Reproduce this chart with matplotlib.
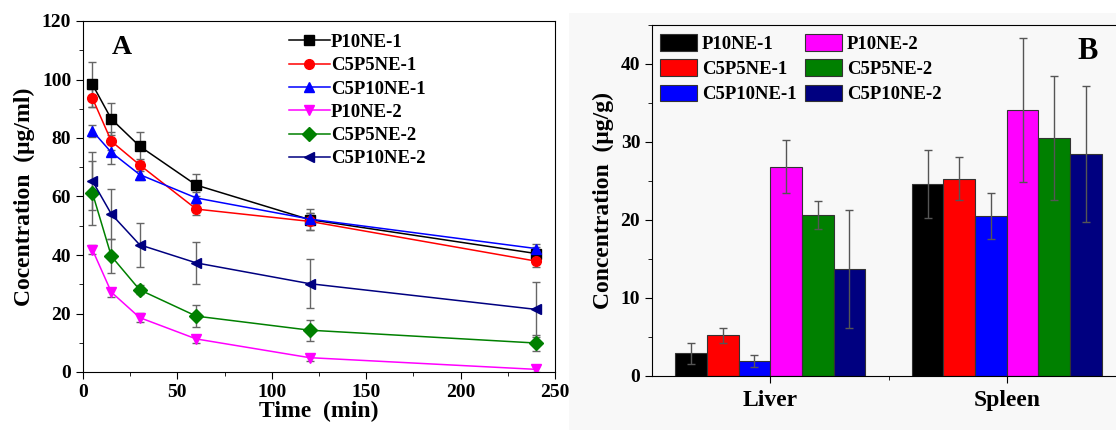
import matplotlib.pyplot as plt
import numpy as np
from matplotlib.ticker import MultipleLocator
from matplotlib.patches import Rectangle
from matplotlib.lines import Line2D

plt.rcParams['font.family'] = ['Liberation Serif', 'DejaVu Serif']
plt.rcParams['font.weight'] = 'bold'
plt.rcParams['axes.labelweight'] = 'bold'

# panel A data: concentration in plasma over time
times = [5, 15, 30, 60, 120, 240]
labels = ['P10NE-1', 'C5P5NE-1', 'C5P10NE-1', 'P10NE-2', 'C5P5NE-2', 'C5P10NE-2']
colors = ['black', 'red', 'blue', 'magenta', 'green', 'navy']
markers = ['s', 'o', '^', 'v', 'D', '<']

p10ne_1 = [98.3, 86.5, 77.2, 63.9, 52.1, 40.5]
p10ne_1_err = [7.6, 5.5, 5.0, 3.8, 3.6, 2.2]
c5p5ne_1 = [93.6, 78.9, 70.8, 55.7, 51.5, 37.9]
c5p5ne_1_err = [3.0, 3.0, 2.0, 2.0, 3.0, 2.0]
c5p10ne_1 = [82.4, 75.1, 67.5, 59.5, 52.3, 42.2]
c5p10ne_1_err = [2.0, 4.0, 2.0, 2.0, 2.0, 1.5]
p10ne_2 = [41.8, 27.3, 18.6, 11.3, 4.9, 0.9]
p10ne_2_err = [1.5, 1.5, 1.5, 1.5, 1.0, 1.0]
c5p5ne_2 = [61.2, 39.6, 28.1, 19.1, 14.3, 9.9]
c5p5ne_2_err = [11.0, 5.8, 1.5, 3.8, 3.6, 2.7]
c5p10ne_2 = [65.3, 54.0, 43.5, 37.3, 30.2, 21.4]
c5p10ne_2_err = [10.0, 8.4, 7.5, 7.2, 8.3, 9.4]

series = [p10ne_1, c5p5ne_1, c5p10ne_1, p10ne_2, c5p5ne_2, c5p10ne_2]
series_err = [p10ne_1_err, c5p5ne_1_err, c5p10ne_1_err, p10ne_2_err, c5p5ne_2_err, c5p10ne_2_err]

# panel B data: tissue concentration
organs = ['Liver', 'Spleen']
bar_vals = [[2.9, 24.6], [5.2, 25.3], [1.9, 20.5], [26.8, 34.1], [20.6, 30.5], [13.7, 28.5]]
bar_errs = [[1.3, 4.4], [1.0, 2.8], [0.8, 2.9], [3.4, 9.2], [1.8, 7.9], [7.6, 8.7]]

fig = plt.figure(figsize=(11.16, 4.3), dpi=100)

# faint background of the right-hand panel image
fig.patches.append(Rectangle((569 / 1116, 0.0), 1 - 569 / 1116, 1 - 13 / 430,
                             transform=fig.transFigure, facecolor='#f8f8f8',
                             edgecolor='none', zorder=-10))

# ---- panel A ----
ax1 = fig.add_axes([83 / 1116, 58 / 430, 472 / 1116, 351 / 430])
handles = []
for vals, errs, lab, c, m in zip(series, series_err, labels, colors, markers):
    ax1.errorbar(times, vals, yerr=errs, color=c, marker=m, markersize=7,
                 linewidth=1.1, ecolor='#666666', elinewidth=1, capsize=3)
    handles.append(Line2D([], [], color=c, marker=m, markersize=7, linewidth=1.1))
ax1.set_xlim(0, 250)
ax1.set_ylim(0, 120)
ax1.xaxis.set_major_locator(MultipleLocator(50))
ax1.xaxis.set_minor_locator(MultipleLocator(25))
ax1.yaxis.set_major_locator(MultipleLocator(20))
ax1.yaxis.set_minor_locator(MultipleLocator(10))
ax1.tick_params(which='both', direction='out', labelsize=14)
ax1.tick_params(which='major', length=5)
ax1.tick_params(which='minor', length=3)
ax1.set_xlabel('Time  (min)', fontsize=17, labelpad=0)
ax1.set_ylabel('Cocentration  (\u03bcg/ml)', fontsize=17, labelpad=5)
ax1.text(0.06, 0.925, 'A', transform=ax1.transAxes, fontsize=20, fontweight='bold',
         va='center')
ax1.legend(handles, labels, loc='upper left', bbox_to_anchor=(0.42, 0.985),
           frameon=False, fontsize=13.5, handlelength=2.2, handletextpad=0.05,
           labelspacing=0.33, borderaxespad=0)

# ---- panel B ----
ax2 = fig.add_axes([652 / 1116, 54 / 430, 473 / 1116, 351 / 430])
x = np.arange(len(organs))
width = 0.134
for i, (vals, errs, lab, c) in enumerate(zip(bar_vals, bar_errs, labels, colors)):
    pos = x + (i - 2.5) * width
    ax2.bar(pos, vals, width=width, color=c, edgecolor='#333333', linewidth=0.8,
            label=lab)
    ax2.errorbar(pos, vals, yerr=errs, fmt='none', ecolor='#555555',
                 elinewidth=1, capsize=3)
ax2.set_xlim(-0.5, 1.5)
ax2.set_ylim(0, 45)
ax2.set_xticks(x)
ax2.set_xticklabels(organs)
ax2.set_xticks([0.5], minor=True)
ax2.yaxis.set_major_locator(MultipleLocator(10))
ax2.yaxis.set_minor_locator(MultipleLocator(5))
ax2.tick_params(which='both', direction='out', labelsize=14)
ax2.tick_params(axis='x', labelsize=17, pad=5)
ax2.tick_params(which='major', length=5)
ax2.tick_params(which='minor', length=3)
ax2.spines['right'].set_visible(False)
ax2.set_facecolor('none')
ax2.set_ylabel('Concentration  (\u03bcg/g)', fontsize=17, labelpad=5)
ax2.text(0.922, 0.925, 'B', transform=ax2.transAxes, fontsize=22, fontweight='bold',
         va='center', ha='center')
bh, bl = ax2.get_legend_handles_labels()
ax2.legend(bh, bl, loc='upper left', bbox_to_anchor=(0.0, 0.996), ncol=2,
           frameon=False, fontsize=13.5, handlelength=2.0, handleheight=1.0,
           handletextpad=0.25, labelspacing=0.35, columnspacing=0.45, borderaxespad=0)

fig.savefig('out.png', dpi=100)
